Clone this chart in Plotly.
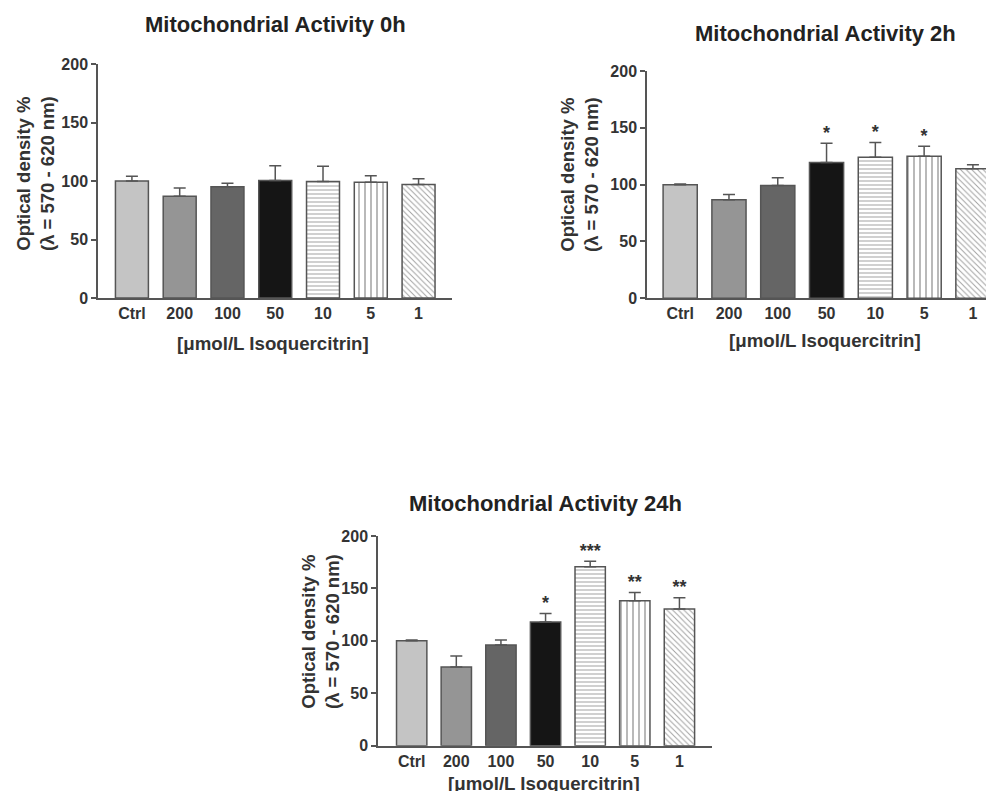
import plotly.graph_objects as go

W, H = 994, 791
OX, OY = 8, 8  # page body margin offset

categories = ["Ctrl", "200", "100", "50", "10", "5", "1"]

values_0h = [100, 87, 95, 100.5, 99.5, 99, 97]
errors_0h = [4, 7, 3, 12.5, 13, 5.5, 5]
stars_0h = ["", "", "", "", "", "", ""]

values_2h = [100, 86.7, 99.3, 119.4, 124, 125, 114]
errors_2h = [0.6, 4.7, 6.7, 17, 13, 8.7, 3.4]
stars_2h = ["", "", "", "*", "*", "*", ""]

values_24h = [100, 75, 96, 118, 170.7, 138.3, 130.4]
errors_24h = [0.8, 10.5, 4.8, 8, 5.3, 7.7, 10.6]
stars_24h = ["", "", "", "*", "***", "**", "**"]

titles = ["Mitochondrial Activity 0h", "Mitochondrial Activity 2h", "Mitochondrial Activity 24h"]
y_title = "Optical density %<br>(λ = 570 - 620 nm)"
x_title = "[μmol/L Isoquercitrin]"
y_ticks = [0, 50, 100, 150, 200]

fills = ["#c4c4c4", "#959595", "#656565", "#151515", "white", "white", "white"]
shapes = ["", "", "", "", "-", "|", "\\"]
psizes = [8, 8, 8, 8, 4, 6, 4]

FONT = "Liberation Sans"
TXT = "#333333"
LINE = "#555555"


def px(x):
    return (x - OX) / W


def py(y):
    return 1 - (y - OY) / H


panels = [
    dict(vals=values_0h, errs=errors_0h, stars=stars_0h,
         x0=98, x1=452, yb=298, yt=64, xr=[-0.71, 6.70], bw=0.69,
         tpos=(275, 25), ypos=(35, 174), xpos=(273, 343)),
    dict(vals=values_2h, errs=errors_2h, stars=stars_2h,
         x0=647, x1=990, yb=298.3, yt=71, xr=[-0.68, 6.35], bw=0.70,
         tpos=(825, 33), ypos=(580, 175), xpos=(825, 341)),
    dict(vals=values_24h, errs=errors_24h, stars=stars_24h,
         x0=378, x1=712, yb=745.7, yt=536, xr=[-0.755, 6.73], bw=0.68,
         tpos=(545, 503), ypos=(320, 632), xpos=(544, 783)),
]

fig = go.Figure()
annotations = []
layout = {}
for i, p in enumerate(panels):
    n = "" if i == 0 else str(i + 1)
    xa, ya = "x" + n, "y" + n
    fig.add_trace(go.Bar(
        x=categories, y=p["vals"], xaxis=xa, yaxis=ya, width=p["bw"],
        marker=dict(color=fills, line=dict(color=LINE, width=1.5),
                    pattern=dict(shape=shapes, fgcolor="#a0a0a0", size=psizes,
                                 solidity=0.25, fillmode="overlay")),
        error_y=dict(type="data", symmetric=False, array=p["errs"],
                     arrayminus=[0] * len(p["errs"]), color=LINE,
                     thickness=1.5, width=6),
        showlegend=False, hoverinfo="skip",
    ))
    tops = [v + e for v, e in zip(p["vals"], p["errs"])]
    fig.add_trace(go.Scatter(
        x=categories, y=tops, mode="text", text=p["stars"], textposition="top center",
        textfont=dict(family=FONT, size=18, color=TXT, weight="bold"), xaxis=xa, yaxis=ya,
        showlegend=False, hoverinfo="skip", cliponaxis=False,
    ))
    layout["xaxis" + n] = dict(
        domain=[px(p["x0"]), px(p["x1"])], range=p["xr"], anchor=ya,
        showline=True, linecolor=LINE, linewidth=1.5, ticks="", automargin=False,
        tickfont=dict(family=FONT, size=16, color=TXT, weight="bold"),
        showgrid=False, zeroline=False, fixedrange=True,
    )
    layout["yaxis" + n] = dict(
        domain=[py(p["yb"]), py(p["yt"])], range=[0, 200], anchor=xa,
        tickvals=y_ticks, showline=True, linecolor=LINE, linewidth=1.5, automargin=False,
        ticks="outside", ticklen=5, tickwidth=1.5, tickcolor=LINE,
        tickfont=dict(family=FONT, size=16, color=TXT, weight="bold"),
        showgrid=False, zeroline=False, fixedrange=True,
    )
    annotations.append(dict(text=titles[i], x=px(p["tpos"][0]), y=py(p["tpos"][1]),
                            xref="paper", yref="paper", showarrow=False,
                            xanchor="center", yanchor="middle",
                            font=dict(family=FONT, size=22, color="#222222", weight="bold")))
    annotations.append(dict(text=y_title, x=px(p["ypos"][0]), y=py(p["ypos"][1]),
                            xref="paper", yref="paper", showarrow=False, textangle=-90,
                            xanchor="center", yanchor="middle",
                            font=dict(family=FONT, size=18.5, color=TXT, weight="bold")))
    annotations.append(dict(text=x_title, x=px(p["xpos"][0]), y=py(p["xpos"][1]),
                            xref="paper", yref="paper", showarrow=False,
                            xanchor="center", yanchor="middle",
                            font=dict(family=FONT, size=18.7, color=TXT, weight="bold")))

fig.update_layout(
    width=W, height=H, margin=dict(l=0, r=0, t=0, b=0, autoexpand=False),
    paper_bgcolor="white", plot_bgcolor="white",
    annotations=annotations, **layout,
)

fig.write_html("out.html")
